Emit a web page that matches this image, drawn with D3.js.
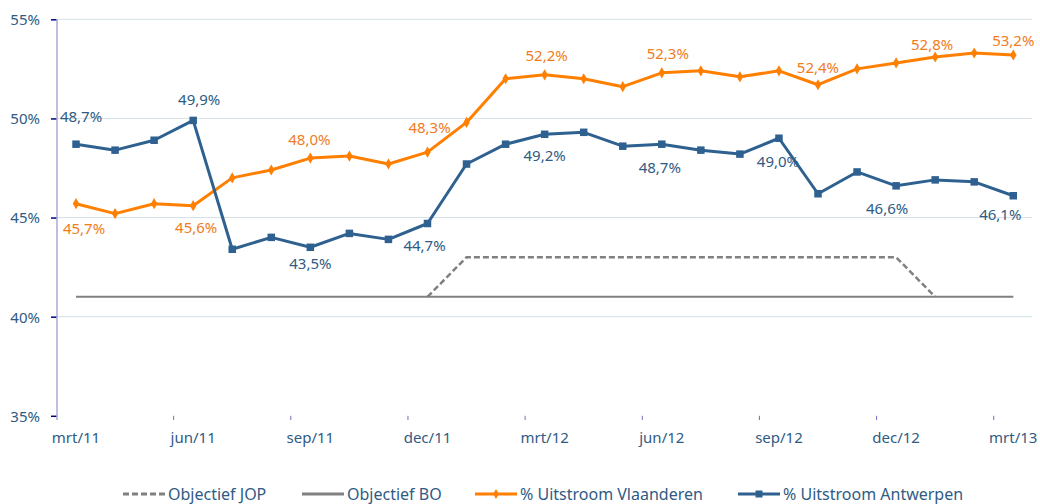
<!DOCTYPE html>
<html>
<head>
<meta charset="utf-8">
<script src="https://cdn.jsdelivr.net/npm/d3@7"></script>
<style>
  body { margin: 0; background: #fff; }
  text { font-family: "Noto Sans", sans-serif; }
</style>
</head>
<body>
<script>
const months = ["mrt/11", "apr/11", "mei/11", "jun/11", "jul/11", "aug/11", "sep/11", "okt/11", "nov/11", "dec/11",
    "jan/12", "feb/12", "mrt/12", "apr/12", "mei/12", "jun/12", "jul/12", "aug/12", "sep/12", "okt/12", "nov/12", "dec/12",
    "jan/13", "feb/13", "mrt/13"];

// JOP only shown where it differs from BO
const objectiefJOP = [null, null, null, null, null, null, null, null, null, 41,
    43, 43, 43, 43, 43, 43, 43, 43, 43, 43, 43, 43,
    41, null, null];
const objectiefBO = [41, 41, 41, 41, 41, 41, 41, 41, 41, 41,
    41, 41, 41, 41, 41, 41, 41, 41, 41, 41, 41, 41,
    41, 41, 41];
const uitstroomVlaanderen = [45.7, 45.2, 45.7, 45.6, 47.0, 47.4, 48.0, 48.1, 47.7, 48.3,
    49.8, 52.0, 52.2, 52.0, 51.6, 52.3, 52.4, 52.1, 52.4, 51.7, 52.5, 52.8,
    53.1, 53.3, 53.2];
const uitstroomAntwerpen = [48.7, 48.4, 48.9, 49.9, 43.4, 44.0, 43.5, 44.2, 43.9, 44.7,
    47.7, 48.7, 49.2, 49.3, 48.6, 48.7, 48.4, 48.2, 49.0, 46.2, 47.3, 46.6,
    46.9, 46.8, 46.1];

const yTicks = [35, 40, 45, 50, 55];
const labelIndices = [0, 3, 6, 9, 12, 15, 18, 21, 24];

// label nudges (px) relative to the point, per series
const nudgeVl = { 0: [8, 30], 3: [3, 27], 6: [-1, -13], 9: [2, -19], 12: [2, -14], 15: [6, -14], 18: [39, 2], 21: [36, -13], 24: [0, -9] };
const nudgeAn = { 0: [5, -22], 3: [6, -15], 6: [0, 22], 9: [-3, 28], 12: [0, 27], 15: [-2, 29], 18: [-1, 29], 21: [-9, 28], 24: [-13, 24] };

const blue = "#2e6190";
const orange = "#ff7f00";
const grey = "#808080";
const textBlue = "#2f5b84";

const svg = d3.select("body").append("svg").attr("width", 1040).attr("height", 504);

const x = d3.scaleBand(months, [56.5, 1032.8]).padding(0);
const xc = d => x(d) + x.bandwidth() / 2;
const y = d3.scaleLinear([35, 55], [415.8, 19.3]);

function fmt(v) {
    return v.toFixed(1).replace(".", ",") + "%";
}

// gridlines
svg.append("g").selectAll("line").data(yTicks.filter(t => t > 35)).join("line")
    .attr("x1", 57).attr("x2", 1032)
    .attr("y1", d => y(d)).attr("y2", d => y(d))
    .attr("stroke", d => d == 40 ? "#cfe3e8" : "#d6e0e4").attr("stroke-width", 1);

// y axis
let yAxis = svg.append("g").attr("transform", "translate(57,0)")
    .call(d3.axisLeft(y).tickValues(yTicks).tickFormat(d => d + "%").tickSize(6).tickPadding(11));
yAxis.select(".domain").remove();
yAxis.selectAll(".tick line").attr("stroke", "#000080").attr("stroke-width", 1.5);
yAxis.selectAll(".tick text").attr("fill", textBlue).style("font-size", "15px").attr("dy", "0.36em");
svg.append("line").attr("x1", 57).attr("x2", 57).attr("y1", 19).attr("y2", 420)
    .attr("stroke", "#a8a8d8").attr("stroke-width", 1.5);

// x axis: ticks between categories, labels every 3 months
let tickCats = months.filter((d, i) => i > 0 && i % 3 == 0);
svg.append("g").selectAll("line").data(tickCats).join("line")
    .attr("x1", d => x(d)).attr("x2", d => x(d))
    .attr("y1", 415.8).attr("y2", 420)
    .attr("stroke", "#7070c0").attr("stroke-width", 1);
svg.append("g").selectAll("text").data(months.filter((d, i) => i % 3 == 0)).join("text")
    .attr("x", d => xc(d)).attr("y", 443)
    .attr("text-anchor", "middle")
    .attr("fill", textBlue).style("font-size", "15px")
    .text(d => d);

// objective lines
const line = d3.line().defined(d => d != null).x((d, i) => xc(months[i])).y(d => y(d));
svg.append("path").attr("d", line(objectiefBO))
    .attr("fill", "none").attr("stroke", grey).attr("stroke-width", 2);
svg.append("path").attr("d", line(objectiefJOP))
    .attr("fill", "none").attr("stroke", grey).attr("stroke-width", 2.5).attr("stroke-dasharray", "6,3");

// series
svg.append("path").attr("d", line(uitstroomVlaanderen))
    .attr("fill", "none").attr("stroke", orange).attr("stroke-width", 3).attr("stroke-linejoin", "round");
svg.append("g").selectAll("path").data(uitstroomVlaanderen).join("path")
    .attr("transform", (d, i) => `translate(${xc(months[i])},${y(d)})`)
    .attr("d", d3.symbol(d3.symbolDiamond, 36))
    .attr("fill", orange);

svg.append("path").attr("d", line(uitstroomAntwerpen))
    .attr("fill", "none").attr("stroke", blue).attr("stroke-width", 3).attr("stroke-linejoin", "round");
svg.append("g").selectAll("rect").data(uitstroomAntwerpen).join("rect")
    .attr("x", (d, i) => xc(months[i]) - 3.75).attr("y", d => y(d) - 3.75)
    .attr("width", 7.5).attr("height", 7.5)
    .attr("fill", blue);

// data labels
function drawLabels(values, nudge, color) {
    svg.append("g").selectAll("text").data(labelIndices).join("text")
        .attr("x", i => xc(months[i]) + nudge[i][0])
        .attr("y", i => y(values[i]) + nudge[i][1])
        .attr("text-anchor", "middle")
        .attr("fill", color).style("font-size", "15px")
        .text(i => fmt(values[i]));
}
drawLabels(uitstroomVlaanderen, nudgeVl, "#f07c1c");
drawLabels(uitstroomAntwerpen, nudgeAn, textBlue);

// legend
const legend = [
    { name: "Objectief JOP", color: grey, dash: "6,3", marker: null, x: 123 },
    { name: "Objectief BO", color: grey, dash: null, marker: null, x: 302 },
    { name: "% Uitstroom Vlaanderen", color: orange, dash: null, marker: "diamond", x: 475 },
    { name: "% Uitstroom Antwerpen", color: blue, dash: null, marker: "square", x: 738 }
];
let lg = svg.append("g").selectAll("g").data(legend).join("g")
    .attr("transform", d => `translate(${d.x},494)`);
lg.append("line").attr("x1", 0).attr("x2", 42).attr("y1", 0).attr("y2", 0)
    .attr("stroke", d => d.color).attr("stroke-width", 3)
    .attr("stroke-dasharray", d => d.dash);
lg.filter(d => d.marker == "diamond").append("path")
    .attr("transform", "translate(21,0)")
    .attr("d", d3.symbol(d3.symbolDiamond, 30)).attr("fill", orange);
lg.filter(d => d.marker == "square").append("rect")
    .attr("x", 17.5).attr("y", -3.5).attr("width", 7).attr("height", 7).attr("fill", blue);
lg.append("text").attr("x", 45).attr("y", 6)
    .attr("fill", textBlue).style("font-size", "16px")
    .text(d => d.name);
</script>
</body>
</html>
